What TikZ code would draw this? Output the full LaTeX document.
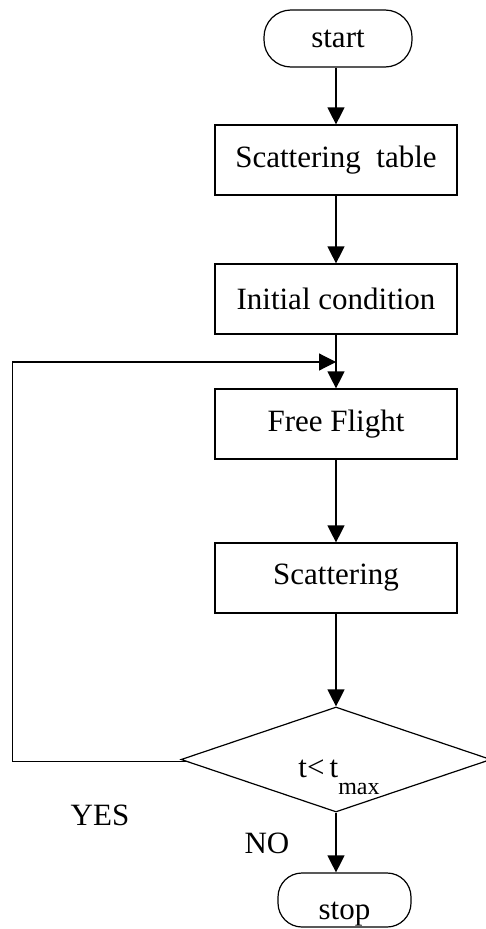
\documentclass[tikz,border=0pt]{standalone}
\usepackage{fontspec}
\setmainfont{Liberation Serif}
\usetikzlibrary{shapes.geometric,arrows.meta,calc}
\begin{document}
\begin{tikzpicture}[x=1pt,y=-1pt,
  every node/.style={font=\fontsize{31}{37}\selectfont, line width=1.2pt},
  box/.style={draw, rectangle, minimum width=242pt, minimum height=70pt, inner sep=0pt},
  term/.style={draw, rectangle, inner sep=0pt},
  dec/.style={draw, diamond, minimum width=310pt, minimum height=105pt, inner sep=0pt},
  lbl/.style={inner sep=0pt},
  arr/.style={line width=1.2pt, -{Triangle[length=17pt,width=17pt]}},
  ln/.style={line width=1.2pt}]
\useasboundingbox (0,0) rectangle (486,929);
\clip (0,0) rectangle (486,929);
\node[term, rounded corners=27pt, minimum width=148pt, minimum height=57pt] (start) at (338,38.5) {start};
\node[box] (stbl) at (336,160) {Scattering\ \ table};
\node[box] (init) at (336,299) {Initial condition};
\node[box] (ff) at (336,424) {Free Flight};
\node[box] (scat) at (336,578) {Scattering};
\node[dec] (d) at (336,759.5) {};
\node[lbl] (dtext) at (339,777) {\raisebox{0pt}[0pt][0pt]{t<\,t\raisebox{-17pt}{\fontsize{24}{24}\selectfont max}}};
\node[term, rounded corners=24pt, minimum width=133pt, minimum height=54pt] (stop) at (344.5,900) {\raisebox{-19pt}[0pt][0pt]{stop}};
\node[lbl] (yes) at (100,815) {YES};
\node[lbl] (no) at (267,843) {NO};
\coordinate (j) at (336,362);
\draw[arr] (stbl.north |- start.south) -- (stbl.north);
\draw[arr] (stbl.south) -- (init.north);
\draw[arr] (init.south) -- (ff.north);
\draw[arr] (ff.south) -- (scat.north);
\draw[arr] (scat.south) -- (d.north);
\draw[arr] (d.south) -- (d.south |- stop.north);
\draw[arr] ($(d.west)!0.04!(d.south)$) -- ++(-174,0) |- (j);
\end{tikzpicture}
\end{document}
